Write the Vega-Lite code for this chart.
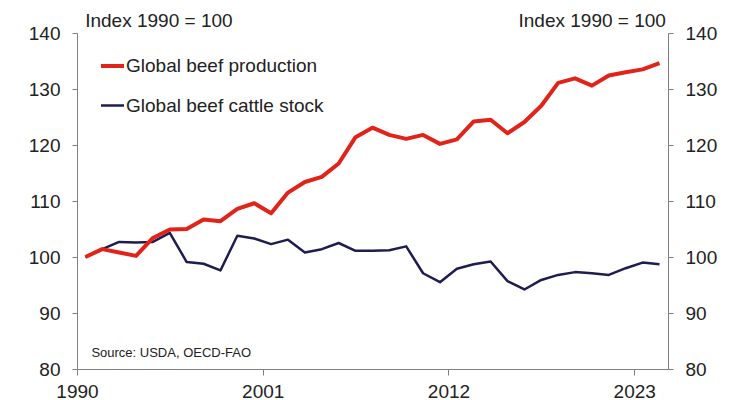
{
  "$schema": "https://vega.github.io/schema/vega-lite/v6.json",
  "width": 591,
  "height": 336,
  "autosize": {"type": "none"},
  "padding": {"left": 77, "top": 33, "right": 66, "bottom": 31},
  "background": "white",
  "config": {
    "font": "Liberation Sans",
    "view": {"stroke": null},
    "axis": {
      "domainColor": "#808080",
      "tickColor": "#808080",
      "domainWidth": 1,
      "tickWidth": 1,
      "tickSize": 5,
      "labelFontSize": 19,
      "labelColor": "#222222",
      "grid": false,
      "titleFontSize": 19,
      "titleFontWeight": "normal",
      "titleColor": "#222222"
    }
  },
  "resolve": {"axis": {"y": "independent"}},
  "layer": [
    {
      "data": {
        "values": [
          {"date": "1990-07-01", "series": "Global beef cattle stock", "value": 100},
          {"date": "1991-07-01", "series": "Global beef cattle stock", "value": 101.4},
          {"date": "1992-07-01", "series": "Global beef cattle stock", "value": 102.7},
          {"date": "1993-07-01", "series": "Global beef cattle stock", "value": 102.6},
          {"date": "1994-07-01", "series": "Global beef cattle stock", "value": 102.7},
          {"date": "1995-07-01", "series": "Global beef cattle stock", "value": 104.3},
          {"date": "1996-07-01", "series": "Global beef cattle stock", "value": 99.1},
          {"date": "1997-07-01", "series": "Global beef cattle stock", "value": 98.8},
          {"date": "1998-07-01", "series": "Global beef cattle stock", "value": 97.6},
          {"date": "1999-07-01", "series": "Global beef cattle stock", "value": 103.8},
          {"date": "2000-07-01", "series": "Global beef cattle stock", "value": 103.3},
          {"date": "2001-07-01", "series": "Global beef cattle stock", "value": 102.3},
          {"date": "2002-07-01", "series": "Global beef cattle stock", "value": 103.1},
          {"date": "2003-07-01", "series": "Global beef cattle stock", "value": 100.8},
          {"date": "2004-07-01", "series": "Global beef cattle stock", "value": 101.4},
          {"date": "2005-07-01", "series": "Global beef cattle stock", "value": 102.5},
          {"date": "2006-07-01", "series": "Global beef cattle stock", "value": 101.1},
          {"date": "2007-07-01", "series": "Global beef cattle stock", "value": 101.1},
          {"date": "2008-07-01", "series": "Global beef cattle stock", "value": 101.2},
          {"date": "2009-07-01", "series": "Global beef cattle stock", "value": 101.9},
          {"date": "2010-07-01", "series": "Global beef cattle stock", "value": 97.1},
          {"date": "2011-07-01", "series": "Global beef cattle stock", "value": 95.5},
          {"date": "2012-07-01", "series": "Global beef cattle stock", "value": 97.9},
          {"date": "2013-07-01", "series": "Global beef cattle stock", "value": 98.7},
          {"date": "2014-07-01", "series": "Global beef cattle stock", "value": 99.2},
          {"date": "2015-07-01", "series": "Global beef cattle stock", "value": 95.7},
          {"date": "2016-07-01", "series": "Global beef cattle stock", "value": 94.2},
          {"date": "2017-07-01", "series": "Global beef cattle stock", "value": 95.9},
          {"date": "2018-07-01", "series": "Global beef cattle stock", "value": 96.8},
          {"date": "2019-07-01", "series": "Global beef cattle stock", "value": 97.3},
          {"date": "2020-07-01", "series": "Global beef cattle stock", "value": 97.1},
          {"date": "2021-07-01", "series": "Global beef cattle stock", "value": 96.8},
          {"date": "2022-07-01", "series": "Global beef cattle stock", "value": 98.0},
          {"date": "2023-07-01", "series": "Global beef cattle stock", "value": 99.0},
          {"date": "2024-07-01", "series": "Global beef cattle stock", "value": 98.7},
          {"date": "1990-07-01", "series": "Global beef production", "value": 100},
          {"date": "1991-07-01", "series": "Global beef production", "value": 101.4},
          {"date": "1992-07-01", "series": "Global beef production", "value": 100.8},
          {"date": "1993-07-01", "series": "Global beef production", "value": 100.2},
          {"date": "1994-07-01", "series": "Global beef production", "value": 103.4},
          {"date": "1995-07-01", "series": "Global beef production", "value": 104.9},
          {"date": "1996-07-01", "series": "Global beef production", "value": 105.0},
          {"date": "1997-07-01", "series": "Global beef production", "value": 106.7},
          {"date": "1998-07-01", "series": "Global beef production", "value": 106.4},
          {"date": "1999-07-01", "series": "Global beef production", "value": 108.6},
          {"date": "2000-07-01", "series": "Global beef production", "value": 109.6},
          {"date": "2001-07-01", "series": "Global beef production", "value": 107.8},
          {"date": "2002-07-01", "series": "Global beef production", "value": 111.5},
          {"date": "2003-07-01", "series": "Global beef production", "value": 113.4},
          {"date": "2004-07-01", "series": "Global beef production", "value": 114.3},
          {"date": "2005-07-01", "series": "Global beef production", "value": 116.7},
          {"date": "2006-07-01", "series": "Global beef production", "value": 121.4},
          {"date": "2007-07-01", "series": "Global beef production", "value": 123.1},
          {"date": "2008-07-01", "series": "Global beef production", "value": 121.8},
          {"date": "2009-07-01", "series": "Global beef production", "value": 121.1},
          {"date": "2010-07-01", "series": "Global beef production", "value": 121.8},
          {"date": "2011-07-01", "series": "Global beef production", "value": 120.2},
          {"date": "2012-07-01", "series": "Global beef production", "value": 121.0},
          {"date": "2013-07-01", "series": "Global beef production", "value": 124.2},
          {"date": "2014-07-01", "series": "Global beef production", "value": 124.5},
          {"date": "2015-07-01", "series": "Global beef production", "value": 122.1},
          {"date": "2016-07-01", "series": "Global beef production", "value": 124.1},
          {"date": "2017-07-01", "series": "Global beef production", "value": 127.0},
          {"date": "2018-07-01", "series": "Global beef production", "value": 131.1},
          {"date": "2019-07-01", "series": "Global beef production", "value": 131.9},
          {"date": "2020-07-01", "series": "Global beef production", "value": 130.6},
          {"date": "2021-07-01", "series": "Global beef production", "value": 132.4},
          {"date": "2022-07-01", "series": "Global beef production", "value": 133.0},
          {"date": "2023-07-01", "series": "Global beef production", "value": 133.5},
          {"date": "2024-07-01", "series": "Global beef production", "value": 134.6}
        ]
      },
      "mark": {"type": "line", "strokeJoin": "round"},
      "encoding": {
        "x": {
          "field": "date",
          "type": "temporal",
          "scale": {"domain": [{"year": 1990, "month": 1, "date": 1}, {"year": 2025, "month": 1, "date": 1}]},
          "axis": {
            "values": [{"year": 1990, "month": 1, "date": 1}, {"year": 2001, "month": 1, "date": 1}, {"year": 2012, "month": 1, "date": 1}, {"year": 2023, "month": 1, "date": 1}],
            "format": "%Y",
            "title": null,
            "labelFlush": false,
            "labelPadding": 7,
            "tickSize": 6
          }
        },
        "y": {
          "field": "value",
          "type": "quantitative",
          "scale": {"domain": [80, 140]},
          "axis": {
            "orient": "left",
            "values": [80, 90, 100, 110, 120, 130, 140],
            "title": "Index 1990 = 100",
            "titleAngle": 0,
            "titleAlign": "left",
            "titleBaseline": "alphabetic",
            "titleX": 7.7,
            "titleY": -7,
            "labelPadding": 12
          }
        },
        "color": {
          "field": "series",
          "type": "nominal",
          "scale": {"domain": ["Global beef production", "Global beef cattle stock"], "range": ["#E2231A", "#1F1C4F"]},
          "legend": {
            "title": null,
            "orient": "none",
            "legendX": 22,
            "legendY": 19.5,
            "padding": 0,
            "symbolType": "stroke",
            "symbolSize": 529,
            "labelFontSize": 19,
            "labelColor": "#222222",
            "labelOffset": 0,
            "rowPadding": 16,
            "labelLimit": 400
          }
        },
        "strokeWidth": {
          "field": "series",
          "type": "nominal",
          "scale": {"domain": ["Global beef production", "Global beef cattle stock"], "range": [4, 2.5]},
          "legend": {
            "title": null,
            "orient": "none",
            "legendX": 22,
            "legendY": 19.5,
            "padding": 0,
            "symbolType": "stroke",
            "symbolSize": 529,
            "labelFontSize": 19,
            "labelColor": "#222222",
            "labelOffset": 0,
            "rowPadding": 16,
            "labelLimit": 400
          }
        }
      }
    },
    {
      "data": {"values": [{}]},
      "mark": {"type": "text", "text": "Source: USDA, OECD-FAO", "fontSize": 13, "align": "left", "baseline": "alphabetic", "color": "#222222"},
      "encoding": {
        "x": {
          "datum": {"year": 1990, "month": 11, "date": 8},
          "type": "temporal",
          "axis": {
            "values": [{"year": 1990, "month": 1, "date": 1}, {"year": 2001, "month": 1, "date": 1}, {"year": 2012, "month": 1, "date": 1}, {"year": 2023, "month": 1, "date": 1}],
            "format": "%Y",
            "title": null,
            "labelFlush": false,
            "labelPadding": 7,
            "tickSize": 6
          }
        },
        "y": {
          "datum": 82.1,
          "type": "quantitative",
          "axis": {
            "orient": "right",
            "values": [80, 90, 100, 110, 120, 130, 140],
            "title": "Index 1990 = 100",
            "titleAngle": 0,
            "titleAlign": "right",
            "titleBaseline": "alphabetic",
            "titleX": -2.6,
            "titleY": -7,
            "labelPadding": 12
          }
        }
      }
    }
  ]
}
